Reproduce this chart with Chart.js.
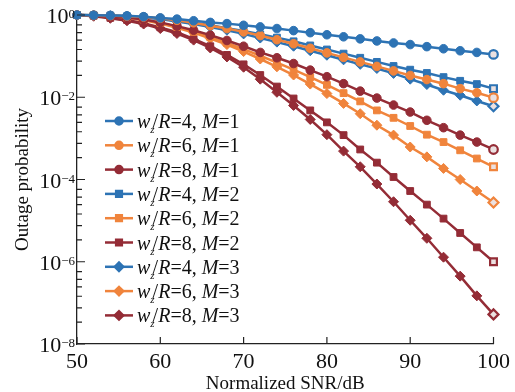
<!DOCTYPE html>
<html lang="en">
<head>
<meta charset="UTF-8" />
<title>Outage probability vs normalized SNR</title>
<script src="https://cdn.jsdelivr.net/npm/chart.js@4.4.0/dist/chart.umd.min.js"></script>
<style>
  body { margin: 0; background: #fff; }
  #wrap { width: 515px; height: 392px; }
</style>
</head>
<body>
<div id="wrap"><canvas id="chart"></canvas></div>
<script>
const snr = [50, 52, 54, 56, 58, 60, 62, 64, 66, 68, 70, 72, 74, 76, 78, 80, 82, 84, 86, 88, 90, 92, 94, 96, 98, 100];

// w_z/R = 4, 6, 8 for M = 1
const r4m1 = [1, 0.989, 0.977, 0.955, 0.912, 0.851, 0.794, 0.724, 0.661, 0.617, 0.562, 0.513, 0.468, 0.417, 0.372, 0.331, 0.295, 0.263, 0.234, 0.209, 0.191, 0.170, 0.151, 0.135, 0.123, 0.110];
const r6m1 = [1, 0.989, 0.966, 0.933, 0.891, 0.832, 0.741, 0.646, 0.550, 0.468, 0.389, 0.316, 0.251, 0.200, 0.155, 0.120, 0.0933, 0.0724, 0.0562, 0.0437, 0.0339, 0.0269, 0.0214, 0.0162, 0.0129, 0.00977];
const r8m1 = [1, 0.977, 0.933, 0.871, 0.776, 0.661, 0.537, 0.427, 0.324, 0.240, 0.174, 0.123, 0.0912, 0.0661, 0.0457, 0.0316, 0.0214, 0.0141, 0.00955, 0.00646, 0.00437, 0.00275, 0.00182, 0.00120, 8.13e-4, 5.37e-4];
// M = 2
const r4m2 = [1, 0.989, 0.977, 0.933, 0.891, 0.813, 0.724, 0.646, 0.562, 0.479, 0.407, 0.339, 0.282, 0.229, 0.182, 0.145, 0.115, 0.0912, 0.0724, 0.0575, 0.0468, 0.0389, 0.0309, 0.0251, 0.0209, 0.0162];
const r6m2 = [1, 0.977, 0.933, 0.871, 0.776, 0.646, 0.513, 0.389, 0.288, 0.209, 0.148, 0.102, 0.0692, 0.0468, 0.0309, 0.0200, 0.0126, 0.00794, 0.00479, 0.00316, 0.00200, 0.00123, 8.13e-4, 5.13e-4, 3.24e-4, 2.04e-4];
const r8m2 = [1, 0.955, 0.851, 0.759, 0.631, 0.501, 0.380, 0.263, 0.174, 0.107, 0.0631, 0.0347, 0.0182, 0.00933, 0.00479, 0.00245, 0.00120, 5.37e-4, 2.57e-4, 1.15e-4, 5.25e-5, 2.45e-5, 1.12e-5, 5.01e-6, 2.24e-6, 1.0e-6];
// M = 3
const r4m3 = [1, 0.989, 0.966, 0.933, 0.871, 0.794, 0.692, 0.603, 0.513, 0.427, 0.347, 0.275, 0.219, 0.174, 0.135, 0.105, 0.0813, 0.0631, 0.0501, 0.0380, 0.0275, 0.0204, 0.0148, 0.0112, 0.00813, 0.00603];
const r6m3 = [1, 0.977, 0.933, 0.851, 0.741, 0.617, 0.490, 0.372, 0.269, 0.191, 0.129, 0.0851, 0.0550, 0.0347, 0.0209, 0.0123, 0.00708, 0.00398, 0.00209, 0.00120, 6.17e-4, 3.55e-4, 1.86e-4, 1.0e-4, 5.25e-5, 2.75e-5];
const r8m3 = [1, 0.933, 0.832, 0.724, 0.603, 0.468, 0.355, 0.245, 0.158, 0.0955, 0.0537, 0.0275, 0.0132, 0.00631, 0.00288, 0.00123, 4.90e-4, 2.04e-4, 7.76e-5, 2.88e-5, 1.02e-5, 3.72e-6, 1.29e-6, 4.47e-7, 1.48e-7, 5.25e-8];

const ratios = ['4', '6', '8', '4', '6', '8', '4', '6', '8'];
const orders = ['1', '1', '1', '2', '2', '2', '3', '3', '3'];
const series = [r4m1, r6m1, r8m1, r4m2, r6m2, r8m2, r4m3, r6m3, r8m3];

const xTicks = [50, 60, 70, 80, 90, 100];
const yTicks = [1, 1e-2, 1e-4, 1e-6, 1e-8];
const yExp = ['0', '\u22122', '\u22124', '\u22126', '\u22128'];
const yMinor = [0.575, 0.372, 0.245, 0.145, 0.076, 0.034,
  5.75e-3, 3.72e-3, 2.45e-3, 1.45e-3, 7.6e-4, 3.4e-4,
  5.75e-5, 3.72e-5, 2.45e-5, 1.45e-5, 7.6e-6, 3.4e-6,
  5.75e-7, 3.72e-7, 2.45e-7, 1.45e-7, 7.6e-8, 3.4e-8];

const BLUE = 'rgb(45,115,180)';
const ORANGE = 'rgb(240,132,60)';
const RED = 'rgb(148,44,54)';
const colors = [BLUE, ORANGE, RED];
const markers = ['circle', 'rect', 'rectRot'];
const radii = [4.3, 4.8, 5];
const SERIF = '"Liberation Serif", "Times New Roman", serif';

const datasets = series.map((vals, i) => {
  const c = colors[i % 3];
  const m = Math.floor(i / 3);
  return {
    label: 'wz/R=' + ratios[i] + ', M=' + orders[i],
    data: vals.map((v, j) => ({ x: snr[j], y: v })),
    borderColor: c,
    backgroundColor: c,
    borderWidth: 2.5,
    pointStyle: markers[m],
    pointRadius: radii[m],
    pointBorderColor: c,
    pointBorderWidth: ctx => ctx.dataIndex === snr.length - 1 ? 2.2 : 1,
    pointBackgroundColor: ctx => ctx.dataIndex === snr.length - 1 ? 'rgba(235,225,225,1)' : c,
    clip: false,
    tension: 0
  };
});

// inward ticks, y labels with exponents, and the legend with subscripts
const decor = {
  id: 'decor',
  afterDraw(chart) {
    const { ctx, chartArea: a, scales: { x, y } } = chart;
    ctx.save();
    ctx.strokeStyle = '#222';
    ctx.lineWidth = 1.2;
    ctx.beginPath();
    xTicks.forEach(v => {
      const px = x.getPixelForValue(v);
      ctx.moveTo(px, a.bottom); ctx.lineTo(px, a.bottom - 7);
    });
    yTicks.forEach(v => {
      const py = y.getPixelForValue(v);
      ctx.moveTo(a.left, py); ctx.lineTo(a.left + 8, py);
    });
    yMinor.forEach(v => {
      const py = y.getPixelForValue(v);
      ctx.moveTo(a.left, py); ctx.lineTo(a.left + 5, py);
    });
    ctx.stroke();

    ctx.fillStyle = '#111';
    ctx.textBaseline = 'alphabetic';
    yTicks.forEach((v, i) => {
      const py = y.getPixelForValue(v);
      ctx.font = '13px ' + SERIF;
      const ew = ctx.measureText(yExp[i]).width;
      ctx.textAlign = 'right';
      ctx.fillText(yExp[i], a.left - 2, py + 3);
      ctx.font = '22px ' + SERIF;
      ctx.fillText('10', a.left - 2 - ew, py + 8);
    });

    // legend
    ctx.textAlign = 'left';
    for (let i = 0; i < series.length; i++) {
      const ly = 121 + i * 24.3;
      const c = colors[i % 3];
      const m = Math.floor(i / 3);
      ctx.strokeStyle = c;
      ctx.lineWidth = 2.5;
      ctx.beginPath();
      ctx.moveTo(105, ly); ctx.lineTo(133, ly);
      ctx.stroke();
      ctx.fillStyle = c;
      Chart.helpers.drawPoint(ctx, { pointStyle: markers[m], radius: radii[m] - 0.8, borderWidth: 1 }, 119, ly);
      ctx.fill();

      ctx.fillStyle = '#111';
      let tx = 137;
      const base = ly + 7;
      const parts = [
        ['italic 20px', 'w', 0],
        ['italic 11px', 'z', 5],
        ['20px', '/', 0],
        ['italic 20px', 'R', 0],
        ['20px', '=' + ratios[i] + ', ', 0],
        ['italic 20px', 'M', 0],
        ['20px', '=' + orders[i], 0]
      ];
      parts.forEach(([f, t, dy]) => {
        ctx.font = f + ' ' + SERIF;
        ctx.fillText(t, tx, base + dy);
        tx += ctx.measureText(t).width;
        if (t === 'z') tx -= 2;
      });
    }
    ctx.restore();
  }
};

new Chart(document.getElementById('chart'), {
  type: 'line',
  data: { datasets },
  plugins: [decor],
  options: {
    responsive: true,
    maintainAspectRatio: false,
    animation: false,
    layout: { padding: { top: 15, right: 20, left: 0, bottom: 0 } },
    plugins: { legend: { display: false }, tooltip: { enabled: false } },
    scales: {
      x: {
        type: 'linear',
        min: 50,
        max: 100,
        grid: { display: false, drawTicks: false },
        border: { display: true, color: '#222', width: 1.3 },
        ticks: { stepSize: 10, padding: 5, color: '#111', font: { family: SERIF, size: 22 } },
        title: { display: true, text: 'Normalized SNR/dB', color: '#111', padding: { top: 0, bottom: -2 }, font: { family: SERIF, size: 19, lineHeight: 1 } },
        afterFit: s => { s.height = 48; }
      },
      y: {
        type: 'logarithmic',
        min: 1e-8,
        max: 1,
        grid: { display: false, drawTicks: false },
        border: { display: true, color: '#222', width: 1.3 },
        ticks: { display: false },
        title: { display: true, text: 'Outage probability', color: '#111', padding: { top: 14, bottom: 0 }, font: { family: SERIF, size: 19, lineHeight: 1 } },
        afterFit: s => { s.width = 77; }
      }
    }
  }
});
</script>
</body>
</html>
